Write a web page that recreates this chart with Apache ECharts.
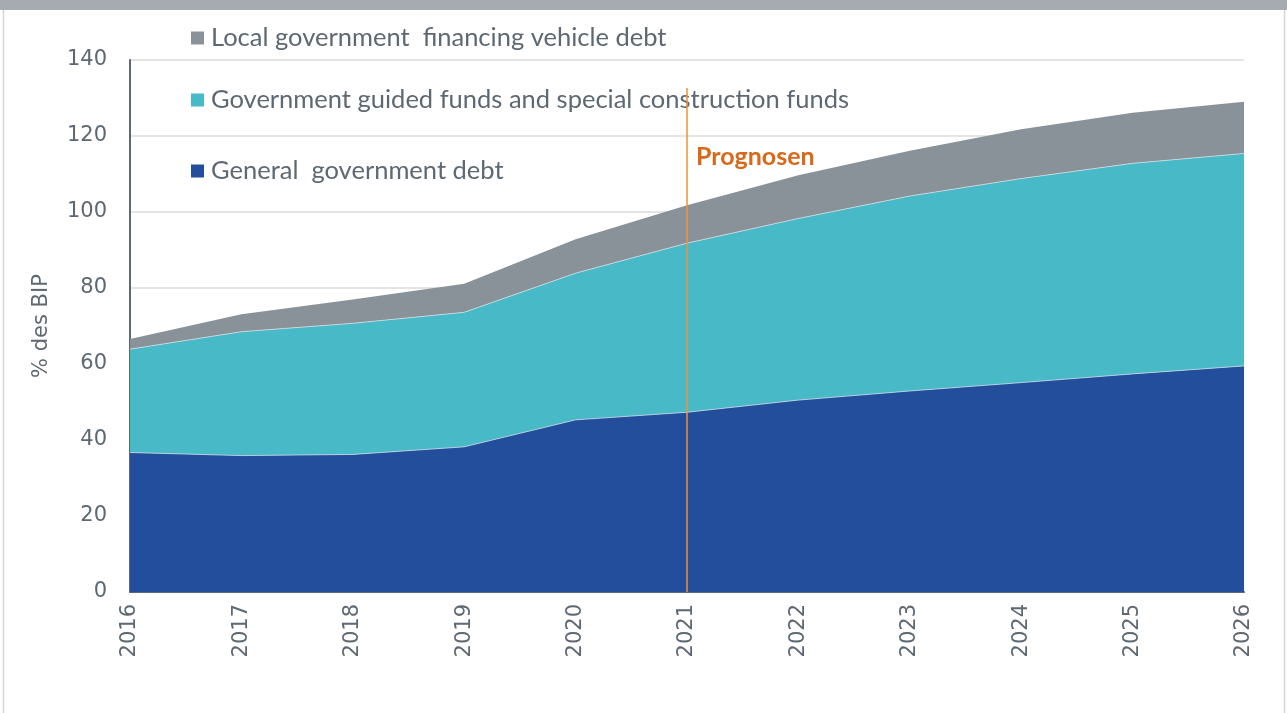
<!DOCTYPE html>
<html>
<head>
<meta charset="utf-8">
<script src="https://cdn.jsdelivr.net/npm/echarts@6/dist/echarts.min.js"></script>
<style>
  html, body { margin: 0; padding: 0; background: #fff; }
  #chart { width: 1287px; height: 713px; }
</style>
</head>
<body>
<div id="chart"></div>
<script>
// Years on the horizontal axis
const years = ['2016', '2017', '2018', '2019', '2020', '2021', '2022', '2023', '2024', '2025', '2026'];

// Debt components in % of GDP (stacked)
const generalGovDebt = [36.7, 35.9, 36.2, 38.2, 45.3, 47.3, 50.5, 52.9, 55.1, 57.4, 59.5];
const guidedFunds    = [27.2, 32.6, 34.5, 35.4, 38.6, 44.5, 47.8, 51.3, 53.7, 55.4, 55.9];
const lgfvDebt       = [2.7, 4.6, 6.3, 7.5, 8.9, 10.0, 11.4, 11.9, 13.0, 13.3, 13.6];

// Series names
const nameGeneral = 'General  government debt';
const nameFunds = 'Government guided funds and special construction funds';
const nameLgfv = 'Local government  financing vehicle debt';

// Forecast marker
const forecastYear = '2021';
const forecastLabel = 'Prognosen';
const forecastLineTop = 132.6;
const forecastLabelLevel = 114.5;

// Y-axis ticks
const yMin = 0, yMax = 140, yStep = 20;

const FONT = '"Source Sans Pro", Lato, "Noto Sans", sans-serif';
const AXIS_FONT = '"DejaVu Sans", Verdana, sans-serif';
const TEXT = '#5d6872';
const C_GENERAL = '#234e9b';
const C_FUNDS = '#48b9c7';
const C_LGFV = '#8a9299';

const chart = echarts.init(document.getElementById('chart'), null, { renderer: 'canvas' });

function legendAt(name, top) {
  return {
    data: [name],
    left: 186,
    top: top,
    orient: 'horizontal',
    icon: 'rect',
    itemWidth: 13,
    itemHeight: 13,
    itemGap: 0,
    selectedMode: false,
    textStyle: { fontFamily: FONT, fontSize: 25.5, color: TEXT, padding: [0, 0, 0, 2] }
  };
}

// Page frame: thin outline and grey band along the top edge
const frameGraphics = [
  {
    id: 'frame',
    type: 'rect',
    shape: { x: 3.5, y: 0, width: 1281, height: 740 },
    style: { fill: 'none', stroke: '#d3d6da', lineWidth: 1.5 },
    silent: true
  },
  {
    id: 'topband',
    type: 'rect',
    shape: { x: 0, y: 0, width: 1287, height: 10 },
    style: { fill: '#a6abb1' },
    silent: true
  }
];

const option = {
  animation: false,
  backgroundColor: '#fff',
  grid: { left: 130, right: 43, top: 60, bottom: 121, containLabel: false },
  legend: [
    legendAt(nameLgfv, 20),
    legendAt(nameFunds, 82),
    legendAt(nameGeneral, 153)
  ],
  xAxis: {
    type: 'category',
    data: years,
    boundaryGap: false,
    axisLine: { show: true, lineStyle: { color: '#5f6870', width: 2 } },
    axisTick: { show: false },
    splitLine: { show: false },
    axisLabel: {
      rotate: 90,
      margin: 12,
      fontFamily: AXIS_FONT,
      fontSize: 21,
      color: TEXT,
      interval: 0
    }
  },
  yAxis: {
    type: 'value',
    min: yMin,
    max: yMax,
    interval: yStep,
    name: '% des BIP',
    nameLocation: 'middle',
    nameGap: 78,
    nameTextStyle: { fontFamily: AXIS_FONT, fontSize: 21, color: TEXT },
    axisLine: { show: true, lineStyle: { color: '#5f6870', width: 2 } },
    axisTick: { show: false },
    axisLabel: { margin: 23, fontFamily: AXIS_FONT, fontSize: 21, color: TEXT },
    splitLine: { show: true, lineStyle: { color: '#e4e4e4', width: 2 } }
  },
  series: [
    {
      name: nameGeneral,
      type: 'line',
      stack: 'debt',
      data: generalGovDebt,
      symbol: 'none',
      itemStyle: { color: C_GENERAL },
      lineStyle: { color: '#c9dde6', width: 0.8 },
      areaStyle: { color: C_GENERAL, opacity: 1 },
      z: 3
    },
    {
      name: nameFunds,
      type: 'line',
      stack: 'debt',
      data: guidedFunds,
      symbol: 'none',
      itemStyle: { color: C_FUNDS },
      lineStyle: { color: '#d4dde2', width: 0.8 },
      areaStyle: { color: C_FUNDS, opacity: 1 },
      z: 2
    },
    {
      name: nameLgfv,
      type: 'line',
      stack: 'debt',
      data: lgfvDebt,
      symbol: 'none',
      itemStyle: { color: C_LGFV },
      lineStyle: { width: 0 },
      areaStyle: { color: C_LGFV, opacity: 1 },
      z: 1,
      markLine: {
        silent: true,
        symbol: ['none', 'none'],
        lineStyle: { color: '#f0913a', width: 1.5, type: 'solid' },
        label: { show: false },
        data: [[
          { xAxis: forecastYear, yAxis: 0 },
          { xAxis: forecastYear, yAxis: forecastLineTop }
        ]]
      }
    }
  ],
  graphic: frameGraphics
};

chart.setOption(option);

// "Prognosen" label placed next to the forecast line, in data coordinates
const [lx, ly] = chart.convertToPixel({ gridIndex: 0 }, [forecastYear, forecastLabelLevel]);
chart.setOption({
  graphic: [
    {
      id: 'forecastLabel',
      type: 'text',
      x: lx + 9,
      y: ly,
      silent: true,
      z: 10,
      style: {
        text: forecastLabel,
        fill: '#d9691a',
        font: 'bold 25px ' + FONT,
        textAlign: 'left',
        textVerticalAlign: 'middle'
      }
    }
  ]
});
</script>
</body>
</html>
